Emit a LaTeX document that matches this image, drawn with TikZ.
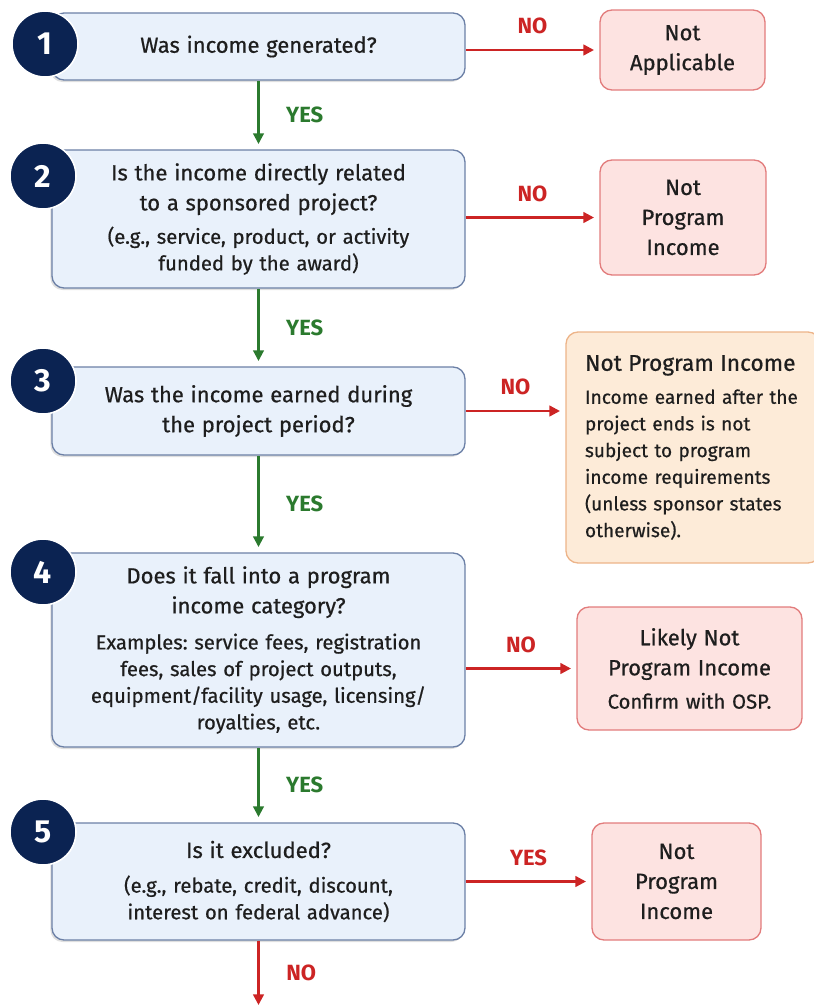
\documentclass[tikz,border=0pt]{standalone}
\usepackage{fontspec}
\setmainfont{Fira Sans}[UprightFeatures={FakeBold=0.6}]
\usetikzlibrary{arrows.meta,shadows}

\definecolor{navy}{HTML}{0B2352}
\definecolor{qfill}{HTML}{E9F1FB}
\definecolor{qdraw}{HTML}{6C80A6}
\definecolor{nfill}{HTML}{FDE3E1}
\definecolor{ndraw}{HTML}{E27C7C}
\definecolor{ofill}{HTML}{FDEBD8}
\definecolor{odraw}{HTML}{EDB489}
\definecolor{yesgreen}{HTML}{2B7A2E}
\definecolor{nored}{HTML}{CC2424}
\definecolor{ink}{HTML}{1E1E1E}

\newcommand{\hdfont}{\fontsize{16.5}{20}\selectfont}
\newcommand{\subfont}{\fontsize{15.2}{20}\selectfont\frenchspacing}

\begin{document}
\begin{tikzpicture}[x=0.75pt, y=-0.75pt, >={Triangle[length=8pt,width=8pt]},
		question/.style={draw=qdraw, fill=qfill, line width=1pt, rounded corners=9pt, inner sep=0pt, minimum width=309.75pt, text width=305pt, align=center, text=ink, font=\subfont, drop shadow={shadow xshift=-1.2pt, shadow yshift=-1.5pt, opacity=0.25}},
		outcome/.style={draw=ndraw, fill=nfill, line width=1pt, rounded corners=9pt, inner sep=0pt, text width=120pt, align=center, text=ink, font=\subfont},
		caution/.style={draw=odraw, fill=ofill, line width=1pt, rounded corners=9pt, inner sep=0pt, text width=162pt, align=left, text=ink, font=\fontsize{14.3}{20}\selectfont\frenchspacing},
		stepnum/.style={circle, fill=navy, draw=white, line width=1.2pt, text=white, font=\fontsize{24}{24}\selectfont\bfseries, minimum size=49.5pt, inner sep=0pt},
		yesarrow/.style={->, draw=yesgreen, fill=yesgreen, line width=1.6pt, shorten >=4pt},
		noarrow/.style={->, draw=nored, fill=nored, line width=1.8pt, shorten >=4pt},
		yeslabel/.style={text=yesgreen, font=\hdfont\bfseries, inner sep=0pt},
		nolabel/.style={text=nored, font=\hdfont\bfseries, inner sep=0pt}]
		\useasboundingbox ( 0, 0 ) rectangle ( 814, 1007 );
		% questions
		\node [question, minimum height=50.25pt] (b1) at ( 258.5, 46.5 ) {{\hdfont Was income generated?}};
		\node [question, minimum height=103.5pt] (b2) at ( 258.5, 219 ) {{\hdfont Is the income directly related}\\[2.5pt]{\hdfont to a sponsored project?}\\[5pt](e.g., service, product, or activity\\funded by the award)};
		\node [question, minimum height=66pt] (b3) at ( 258.5, 411 ) {{\hdfont Was the income earned during}\\[2.5pt]{\hdfont the project period?}};
		\node [question, minimum height=145.5pt] (b4) at ( 258.5, 650 ) {{\hdfont Does it fall into a program}\\[2.5pt]{\hdfont income category?}\\[7pt]Examples: service fees, registration\\fees, sales of project outputs,\\equipment/facility usage, licensing/\\royalties, etc.};
		\node [question, minimum height=87.75pt] (b5) at ( 258.5, 881.5 ) {{\hdfont Is it excluded?}\\[6pt](e.g., rebate, credit, discount,\\interest on federal advance)};
		% step numbers
		\node [stepnum] (c1) at ( 45, 44 ) {1};
		\node [stepnum] (c2) at ( 43, 176 ) {2};
		\node [stepnum] (c3) at ( 43, 381 ) {3};
		\node [stepnum] (c4) at ( 43, 572 ) {4};
		\node [stepnum] (c5) at ( 43, 832 ) {5};
		% outcomes
		\node [outcome, minimum width=123.75pt, minimum height=60pt] (r1) at ( 682.5, 50 ) {{\hdfont Not}\\[2.5pt]{\hdfont Applicable}};
		\node [outcome, minimum width=124.5pt, minimum height=86.25pt] (r2) at ( 683, 217.5 ) {{\hdfont Not}\\[2.5pt]{\hdfont Program}\\[2.5pt]{\hdfont Income}};
		\node [caution, minimum width=190.5pt, minimum height=173.25pt] (r3) at ( 693, 447.5 ) {{\fontsize{17}{20}\selectfont Not Program Income}\\[4.75pt]Income earned after the\\project ends is not\\subject to program\\income requirements\\(unless sponsor states\\otherwise).};
		\node [outcome, text width=165pt, minimum width=168.75pt, minimum height=92.25pt] (r4) at ( 689.5, 668.5 ) {{\hdfont Likely Not}\\[2.5pt]{\hdfont Program Income}\\[5pt]Confirm with OSP.};
		\node [outcome, minimum width=126.75pt, minimum height=87.75pt] (r5) at ( 676.5, 881.5 ) {{\hdfont Not}\\[2.5pt]{\hdfont Program}\\[2.5pt]{\hdfont Income}};
		% yes path
		\draw [yesarrow] (b1.south) -- (b2.north) node [yeslabel, midway, right=20pt] {YES};
		\draw [yesarrow] (b2.south) -- (b3.north) node [yeslabel, midway, right=20pt] {YES};
		\draw [yesarrow] (b3.south) -- (b4.north) node [yeslabel, midway, right=20pt] {YES};
		\draw [yesarrow] (b4.south) -- (b5.north) node [yeslabel, midway, right=20pt] {YES};
		% side exits
		\draw [noarrow] (b1.east |- r1.west) -- (r1.west) node [nolabel, midway, above=11pt] {NO};
		\draw [noarrow] (b2.east |- r2.west) -- (r2.west) node [nolabel, midway, above=11pt] {NO};
		\draw [noarrow] (b3.east) -- (b3.east -| r3.west) node [nolabel, midway, above=11pt] {NO};
		\draw [noarrow] (b4.east |- r4.west) -- (r4.west) node [nolabel, midway, above=11pt] {NO};
		\draw [noarrow] (b5.east |- r5.west) -- (r5.west) node [nolabel, midway, above=11pt] {YES};
		\coordinate (out) at ( 258.5, 1005 );
		\draw [noarrow, shorten >=0pt] (b5.south) -- (out) node [nolabel, midway, right=20pt] {NO};
	\end{tikzpicture}
\end{document}
